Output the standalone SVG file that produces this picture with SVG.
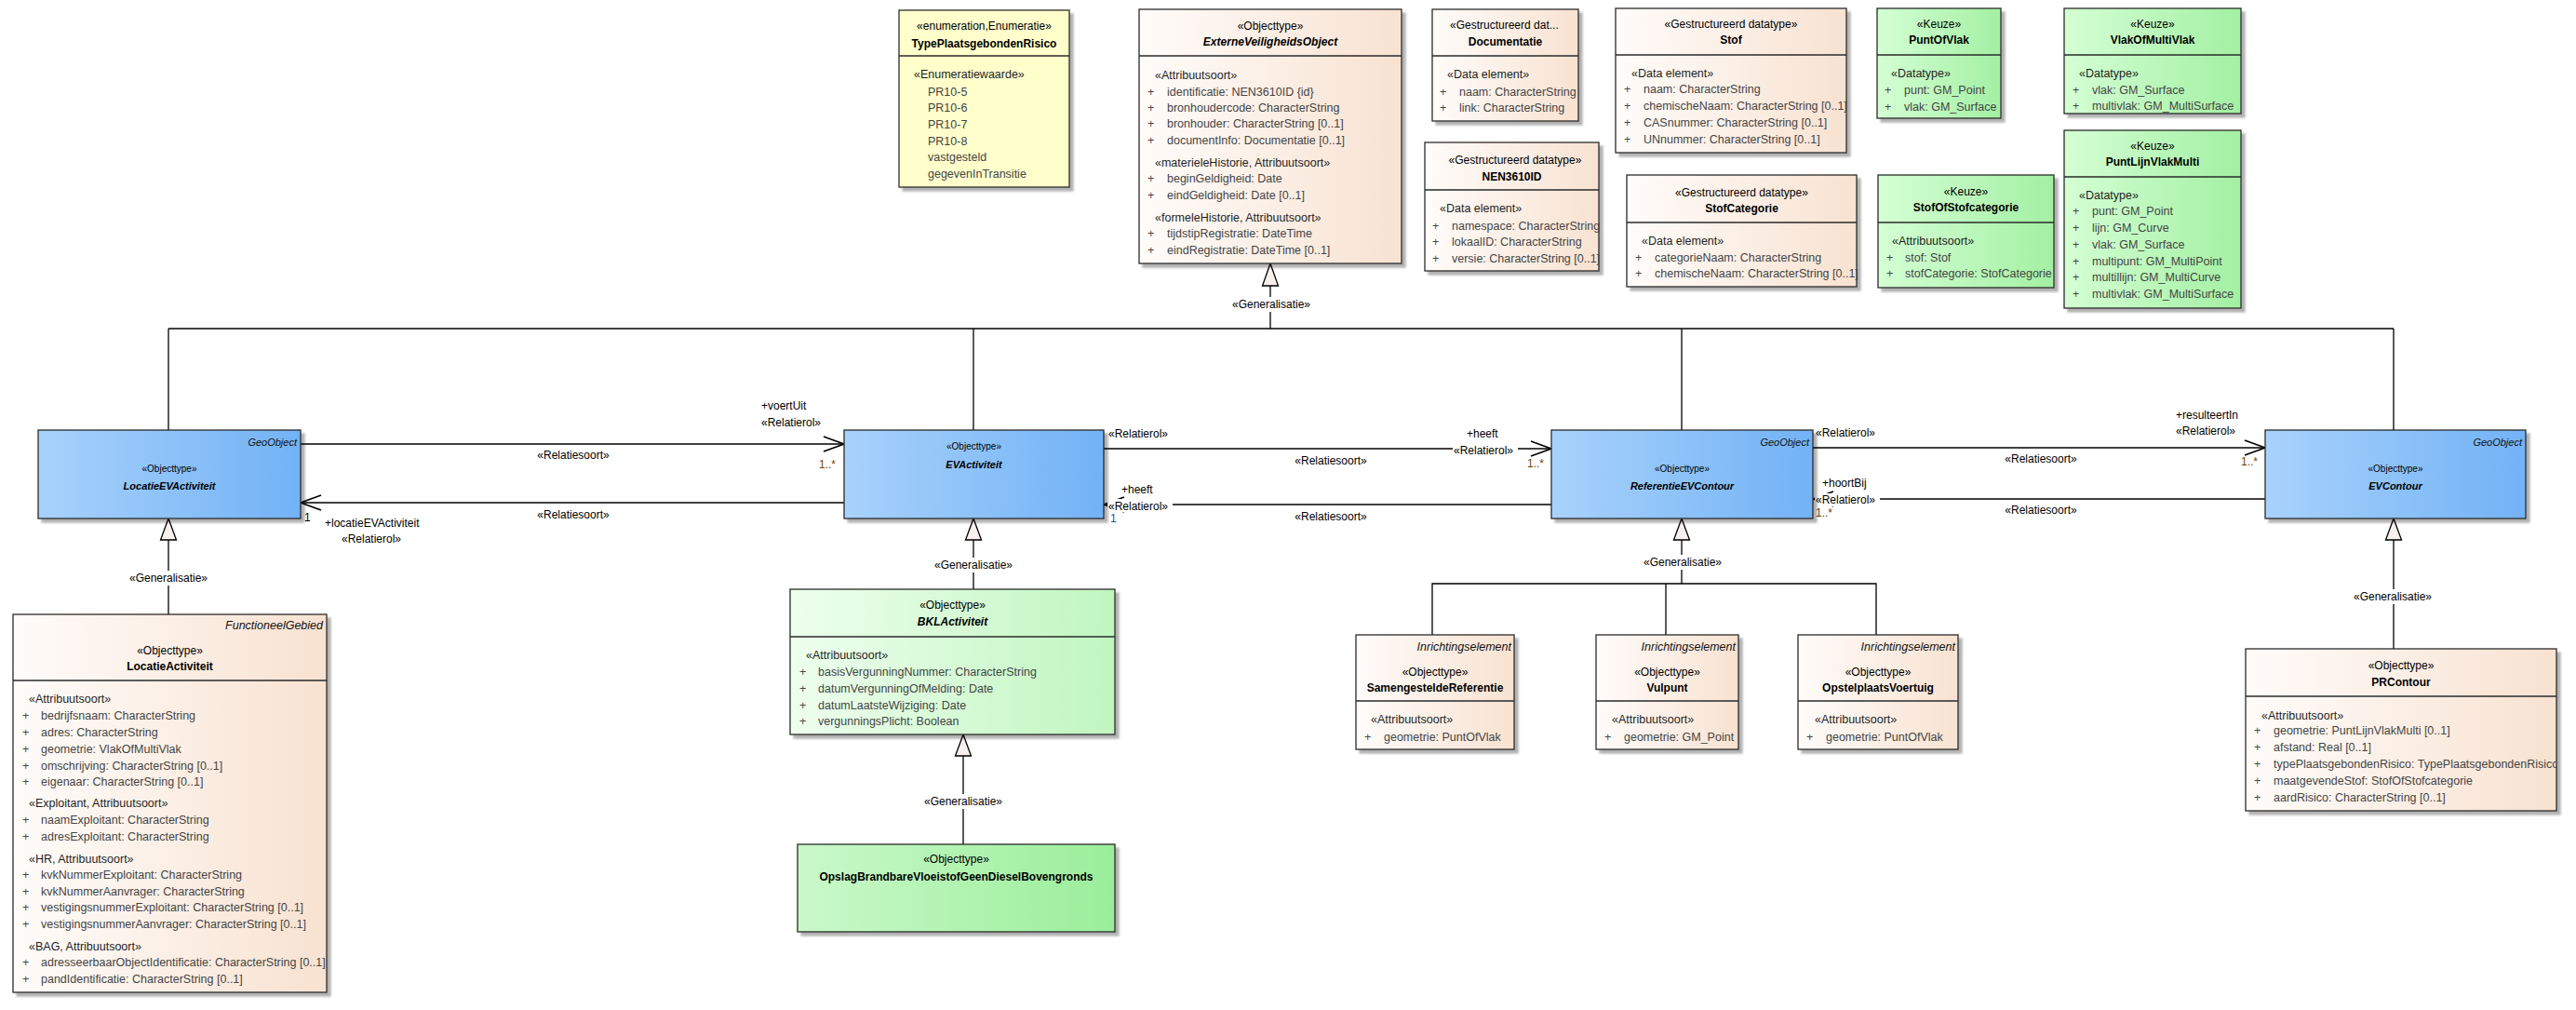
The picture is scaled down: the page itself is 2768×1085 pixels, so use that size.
<svg xmlns="http://www.w3.org/2000/svg" width="2768" height="1085" viewBox="0 0 2768 1085">
<defs>
<linearGradient id="gBeige" x1="0" y1="0" x2="1" y2="0"><stop offset="0" stop-color="#fffcfa"/><stop offset="1" stop-color="#f8e2d1"/></linearGradient>
<linearGradient id="gBlue" x1="0" y1="0" x2="1" y2="0"><stop offset="0" stop-color="#a8d2fb"/><stop offset="1" stop-color="#72b2f6"/></linearGradient>
<linearGradient id="gGreen" x1="0" y1="0" x2="1" y2="0"><stop offset="0" stop-color="#d4ffd4"/><stop offset="1" stop-color="#a3f0a3"/></linearGradient>
<linearGradient id="gGreenL" x1="0" y1="0" x2="1" y2="0"><stop offset="0" stop-color="#eeffee"/><stop offset="1" stop-color="#c0f6c0"/></linearGradient>
<linearGradient id="gGreenD" x1="0" y1="0" x2="1" y2="0"><stop offset="0" stop-color="#caf9ca"/><stop offset="1" stop-color="#9aee9a"/></linearGradient>
<filter id="sh" x="-5%" y="-5%" width="115%" height="115%"><feDropShadow dx="4" dy="4" stdDeviation="1.2" flood-color="#000" flood-opacity="0.3"/></filter>
<marker id="open" viewBox="0 0 24 18" refX="23" refY="9" markerWidth="24" markerHeight="18" markerUnits="userSpaceOnUse" orient="auto"><path d="M1,1 L23,9 L1,17" fill="none" stroke="#000" stroke-width="1.6"/></marker>
<clipPath id="clipPR"><rect x="2413" y="697" width="334" height="174"/></clipPath>
<style>
text{font-family:"Liberation Sans",Arial,sans-serif;}
.box{stroke:#2a2a2a;stroke-width:1.3;filter:url(#sh);}
.div{stroke:#2a2a2a;stroke-width:1.3;}
.st{font-size:12px;fill:#000;text-anchor:middle;}
.nm{font-size:12px;font-weight:bold;fill:#000;text-anchor:middle;}
.nmi{font-size:12px;font-weight:bold;font-style:italic;fill:#000;text-anchor:middle;}
.sec{font-size:12.5px;fill:#1e1e1e;}
.at{font-size:12.5px;fill:#444;}
.par{font-size:12.5px;font-style:italic;fill:#111;text-anchor:end;}
.bst{font-size:10px;fill:#000;text-anchor:middle;}
.bnm{font-size:11px;font-weight:bold;font-style:italic;fill:#000;text-anchor:middle;}
.bpar{font-size:11px;font-style:italic;fill:#111;text-anchor:end;}
.ln{stroke:#000;stroke-width:1.3;fill:none;}
.tri{fill:#f7f0ee;stroke:#000;stroke-width:1.3;}
.cl{font-size:12px;fill:#000;}
.clm{font-size:12px;fill:#000;text-anchor:middle;}
.mul{font-size:12px;fill:#6b4300;}
.mulb{font-size:12px;fill:#1d4f9c;}
.wb{fill:#fff;}
</style>
</defs>
<rect width="2768" height="1085" fill="#fff"/>

<g id="connectors">
  <!-- generalization tree top -->
  <line class="ln" x1="1365" y1="307" x2="1365" y2="353"/>
  <polygon class="tri" points="1365,283 1356.5,307 1373.5,307"/>
  <rect class="wb" x="1322" y="319" width="88" height="16"/>
  <text class="clm" x="1366" y="331">«Generalisatie»</text>
  <line class="ln" x1="181" y1="353" x2="2572" y2="353"/>
  <line class="ln" x1="181" y1="353" x2="181" y2="462"/>
  <line class="ln" x1="1046" y1="353" x2="1046" y2="462"/>
  <line class="ln" x1="1807" y1="353" x2="1807" y2="462"/>
  <line class="ln" x1="2572" y1="353" x2="2572" y2="462"/>

  <!-- LocatieEVActiviteit -> LocatieActiviteit -->
  <line class="ln" x1="181" y1="580" x2="181" y2="660"/>
  <polygon class="tri" points="181,557 172.5,580 189.5,580"/>
  <rect class="wb" x="137" y="613" width="88" height="16"/>
  <text class="clm" x="181" y="625">«Generalisatie»</text>

  <!-- EVActiviteit -> BKLActiviteit -->
  <line class="ln" x1="1046" y1="580" x2="1046" y2="633"/>
  <polygon class="tri" points="1046,557 1037.5,580 1054.5,580"/>
  <rect class="wb" x="1002" y="599" width="88" height="16"/>
  <text class="clm" x="1046" y="611">«Generalisatie»</text>

  <!-- BKLActiviteit -> Opslag -->
  <line class="ln" x1="1035" y1="812" x2="1035" y2="907"/>
  <polygon class="tri" points="1035,789 1026.5,812 1043.5,812"/>
  <rect class="wb" x="991" y="853" width="88" height="16"/>
  <text class="clm" x="1035" y="865">«Generalisatie»</text>

  <!-- ReferentieEVContour -> Inrichtingselementen -->
  <line class="ln" x1="1807" y1="580" x2="1807" y2="627"/>
  <polygon class="tri" points="1807,557 1798.5,580 1815.5,580"/>
  <rect class="wb" x="1764" y="596" width="88" height="16"/>
  <text class="clm" x="1808" y="608">«Generalisatie»</text>
  <polyline class="ln" points="1539,682 1539,627 2016,627 2016,682"/>
  <line class="ln" x1="1790" y1="627" x2="1790" y2="682"/>

  <!-- EVContour -> PRContour -->
  <line class="ln" x1="2572" y1="580" x2="2572" y2="697"/>
  <polygon class="tri" points="2572,557 2563.5,580 2580.5,580"/>
  <rect class="wb" x="2527" y="633" width="88" height="16"/>
  <text class="clm" x="2571" y="645">«Generalisatie»</text>

  <!-- A1 LocatieEVActiviteit -> EVActiviteit -->
  <line class="ln" x1="323" y1="477" x2="907" y2="477" marker-end="url(#open)"/>
  <text class="cl" x="818" y="440">+voertUit</text>
  <text class="cl" x="818" y="458">«Relatierol»</text>
  <text class="mul" x="880" y="503">1..*</text>
  <text class="clm" x="616" y="493">«Relatiesoort»</text>

  <!-- A2 EVActiviteit -> LocatieEVActiviteit -->
  <line class="ln" x1="907" y1="540" x2="323" y2="540" marker-end="url(#open)"/>
  <text class="cl" x="327" y="560">1</text>
  <text class="cl" x="349" y="566">+locatieEVActiviteit</text>
  <text class="cl" x="367" y="583">«Relatierol»</text>
  <text class="clm" x="616" y="557">«Relatiesoort»</text>

  <!-- A3 EVActiviteit -> ReferentieEVContour -->
  <line class="ln" x1="1186" y1="482" x2="1667" y2="482" marker-end="url(#open)"/>
  <text class="cl" x="1191" y="470">«Relatierol»</text>
  <text class="cl" x="1576" y="470">+heeft</text>
  <rect class="wb" x="1561" y="476" width="70" height="14"/>
  <text class="cl" x="1562" y="488">«Relatierol»</text>
  <text class="mul" x="1641" y="502">1..*</text>
  <text class="clm" x="1430" y="499">«Relatiesoort»</text>

  <!-- A4 ReferentieEVContour -> EVActiviteit -->
  <line class="ln" x1="1667" y1="542" x2="1186" y2="542" marker-end="url(#open)"/>
  <text class="cl" x="1205" y="530">+heeft</text>
  <rect class="wb" x="1190" y="536" width="70" height="14"/>
  <text class="cl" x="1191" y="548">«Relatierol»</text>
  <text class="mulb" x="1193" y="561">1</text>
  <text class="clm" x="1430" y="559">«Relatiesoort»</text>

  <!-- A5 ReferentieEVContour -> EVContour -->
  <line class="ln" x1="1948" y1="481" x2="2434" y2="481" marker-end="url(#open)"/>
  <text class="cl" x="1951" y="469">«Relatierol»</text>
  <text class="cl" x="2338" y="450">+resulteertIn</text>
  <text class="cl" x="2338" y="467">«Relatierol»</text>
  <text class="mul" x="2408" y="500">1..*</text>
  <text class="clm" x="2193" y="497">«Relatiesoort»</text>

  <!-- A6 EVContour -> ReferentieEVContour -->
  <line class="ln" x1="2434" y1="536" x2="1948" y2="536" marker-end="url(#open)"/>
  <text class="cl" x="1958" y="523">+hoortBij</text>
  <rect class="wb" x="1950" y="530" width="70" height="14"/>
  <text class="cl" x="1951" y="541">«Relatierol»</text>
  <text class="mul" x="1951" y="555">1..*</text>
  <text class="clm" x="2193" y="552">«Relatiesoort»</text>
</g>

<g id="n-TypePlaatsgebondenRisico">
  <rect class="box" x="966" y="11" width="183" height="190" fill="#ffffcc"/>
  <line class="div" x1="966" y1="60" x2="1149" y2="60"/>
  <text class="st" x="1057.5" y="32">«enumeration,Enumeratie»</text>
  <text class="nm" x="1057.5" y="51">TypePlaatsgebondenRisico</text>
  <text class="sec" x="982" y="84">«Enumeratiewaarde»</text>
  <text class="at" x="997" y="102.5">PR10-5</text>
  <text class="at" x="997" y="120">PR10-6</text>
  <text class="at" x="997" y="137.5">PR10-7</text>
  <text class="at" x="997" y="155.5">PR10-8</text>
  <text class="at" x="997" y="173">vastgesteld</text>
  <text class="at" x="997" y="191">gegevenInTransitie</text>
</g>

<g id="n-ExterneVeiligheidsObject">
  <rect class="box" x="1224" y="10" width="282" height="273" fill="url(#gBeige)"/>
  <line class="div" x1="1224" y1="60" x2="1506" y2="60"/>
  <text class="st" x="1365" y="32">«Objecttype»</text>
  <text class="nmi" x="1365" y="49">ExterneVeiligheidsObject</text>
  <text class="sec" x="1241" y="84.5">«Attribuutsoort»</text>
  <text class="at" x="1233" y="102.8">+</text><text class="at" x="1254" y="102.8">identificatie: NEN3610ID {id}</text>
  <text class="at" x="1233" y="119.5">+</text><text class="at" x="1254" y="119.5">bronhoudercode: CharacterString</text>
  <text class="at" x="1233" y="136.8">+</text><text class="at" x="1254" y="136.8">bronhouder: CharacterString [0..1]</text>
  <text class="at" x="1233" y="154.8">+</text><text class="at" x="1254" y="154.8">documentInfo: Documentatie [0..1]</text>
  <text class="sec" x="1241" y="178.8">«materieleHistorie, Attribuutsoort»</text>
  <text class="at" x="1233" y="196.2">+</text><text class="at" x="1254" y="196.2">beginGeldigheid: Date</text>
  <text class="at" x="1233" y="213.5">+</text><text class="at" x="1254" y="213.5">eindGeldigheid: Date [0..1]</text>
  <text class="sec" x="1241" y="237.8">«formeleHistorie, Attribuutsoort»</text>
  <text class="at" x="1233" y="255.2">+</text><text class="at" x="1254" y="255.2">tijdstipRegistratie: DateTime</text>
  <text class="at" x="1233" y="272.8">+</text><text class="at" x="1254" y="272.8">eindRegistratie: DateTime [0..1]</text>
</g>

<g id="n-Documentatie">
  <rect class="box" x="1539" y="10" width="157" height="120" fill="url(#gBeige)"/>
  <line class="div" x1="1539" y1="60" x2="1696" y2="60"/>
  <text class="st" x="1558" y="31" style="text-anchor:start">«Gestructureerd dat...</text>
  <text class="nm" x="1617.5" y="49">Documentatie</text>
  <text class="sec" x="1555" y="84">«Data element»</text>
  <text class="at" x="1547" y="102.5">+</text><text class="at" x="1568" y="102.5">naam: CharacterString</text>
  <text class="at" x="1547" y="119.5">+</text><text class="at" x="1568" y="119.5">link: CharacterString</text>
</g>

<g id="n-NEN3610ID">
  <rect class="box" x="1531" y="153" width="187" height="138" fill="url(#gBeige)"/>
  <line class="div" x1="1531" y1="204" x2="1718" y2="204"/>
  <text class="st" x="1628" y="175.5">«Gestructureerd datatype»</text>
  <text class="nm" x="1624.5" y="193.5">NEN3610ID</text>
  <text class="sec" x="1547" y="227.5">«Data element»</text>
  <text class="at" x="1539" y="246.5">+</text><text class="at" x="1560" y="246.5">namespace: CharacterString</text>
  <text class="at" x="1539" y="263.5">+</text><text class="at" x="1560" y="263.5">lokaalID: CharacterString</text>
  <text class="at" x="1539" y="281.5">+</text><text class="at" x="1560" y="281.5">versie: CharacterString [0..1]</text>
</g>

<g id="n-Stof">
  <rect class="box" x="1736" y="9" width="248" height="155" fill="url(#gBeige)"/>
  <line class="div" x1="1736" y1="59" x2="1984" y2="59"/>
  <text class="st" x="1860" y="29.5">«Gestructureerd datatype»</text>
  <text class="nm" x="1860" y="46.5">Stof</text>
  <text class="sec" x="1753" y="82.5">«Data element»</text>
  <text class="at" x="1745" y="100">+</text><text class="at" x="1766" y="100">naam: CharacterString</text>
  <text class="at" x="1745" y="118">+</text><text class="at" x="1766" y="118">chemischeNaam: CharacterString [0..1]</text>
  <text class="at" x="1745" y="136">+</text><text class="at" x="1766" y="136">CASnummer: CharacterString [0..1]</text>
  <text class="at" x="1745" y="153.5">+</text><text class="at" x="1766" y="153.5">UNnummer: CharacterString [0..1]</text>
</g>

<g id="n-StofCategorie">
  <rect class="box" x="1748" y="188" width="247" height="120" fill="url(#gBeige)"/>
  <line class="div" x1="1748" y1="239" x2="1995" y2="239"/>
  <text class="st" x="1871.5" y="210.5">«Gestructureerd datatype»</text>
  <text class="nm" x="1871.5" y="227.5">StofCategorie</text>
  <text class="sec" x="1764" y="262.5">«Data element»</text>
  <text class="at" x="1757" y="280.5">+</text><text class="at" x="1778" y="280.5">categorieNaam: CharacterString</text>
  <text class="at" x="1757" y="297.5">+</text><text class="at" x="1778" y="297.5">chemischeNaam: CharacterString [0..1]</text>
</g>

<g id="n-PuntOfVlak">
  <rect class="box" x="2017" y="9" width="133" height="118" fill="url(#gGreen)"/>
  <line class="div" x1="2017" y1="59" x2="2150" y2="59"/>
  <text class="st" x="2083.5" y="29.5">«Keuze»</text>
  <text class="nm" x="2083.5" y="46.5">PuntOfVlak</text>
  <text class="sec" x="2032" y="82.5">«Datatype»</text>
  <text class="at" x="2025" y="100.5">+</text><text class="at" x="2046" y="100.5">punt: GM_Point</text>
  <text class="at" x="2025" y="118.5">+</text><text class="at" x="2046" y="118.5">vlak: GM_Surface</text>
</g>

<g id="n-VlakOfMultiVlak">
  <rect class="box" x="2218" y="9" width="190" height="113" fill="url(#gGreen)"/>
  <line class="div" x1="2218" y1="59" x2="2408" y2="59"/>
  <text class="st" x="2313" y="29.5">«Keuze»</text>
  <text class="nm" x="2313" y="46.5">VlakOfMultiVlak</text>
  <text class="sec" x="2234" y="82.5">«Datatype»</text>
  <text class="at" x="2227" y="100.5">+</text><text class="at" x="2248" y="100.5">vlak: GM_Surface</text>
  <text class="at" x="2227" y="118">+</text><text class="at" x="2248" y="118">multivlak: GM_MultiSurface</text>
</g>

<g id="n-StofOfStofcategorie">
  <rect class="box" x="2018" y="188" width="189" height="121" fill="url(#gGreen)"/>
  <line class="div" x1="2018" y1="239" x2="2207" y2="239"/>
  <text class="st" x="2112.5" y="209.5">«Keuze»</text>
  <text class="nm" x="2112.5" y="226.5">StofOfStofcategorie</text>
  <text class="sec" x="2033" y="262.5">«Attribuutsoort»</text>
  <text class="at" x="2027" y="280.5">+</text><text class="at" x="2047" y="280.5">stof: Stof</text>
  <text class="at" x="2027" y="297.5">+</text><text class="at" x="2047" y="297.5">stofCategorie: StofCategorie</text>
</g>

<g id="n-PuntLijnVlakMulti">
  <rect class="box" x="2218" y="140" width="190" height="191" fill="url(#gGreen)"/>
  <line class="div" x1="2218" y1="190" x2="2408" y2="190"/>
  <text class="st" x="2313" y="160.5">«Keuze»</text>
  <text class="nm" x="2313" y="177.5">PuntLijnVlakMulti</text>
  <text class="sec" x="2234" y="213.5">«Datatype»</text>
  <text class="at" x="2227" y="231">+</text><text class="at" x="2248" y="231">punt: GM_Point</text>
  <text class="at" x="2227" y="249">+</text><text class="at" x="2248" y="249">lijn: GM_Curve</text>
  <text class="at" x="2227" y="267">+</text><text class="at" x="2248" y="267">vlak: GM_Surface</text>
  <text class="at" x="2227" y="285">+</text><text class="at" x="2248" y="285">multipunt: GM_MultiPoint</text>
  <text class="at" x="2227" y="302">+</text><text class="at" x="2248" y="302">multillijn: GM_MultiCurve</text>
  <text class="at" x="2227" y="320">+</text><text class="at" x="2248" y="320">multivlak: GM_MultiSurface</text>
</g>

<g id="n-LocatieEVActiviteit">
  <rect class="box" x="41" y="462" width="282" height="95" fill="url(#gBlue)"/>
  <text class="bpar" x="319" y="479">GeoObject</text>
  <text class="bst" x="182" y="507">«Objecttype»</text>
  <text class="bnm" x="182" y="526">LocatieEVActiviteit</text>
</g>

<g id="n-EVActiviteit">
  <rect class="box" x="907" y="462" width="279" height="95" fill="url(#gBlue)"/>
  <text class="bst" x="1046.5" y="483">«Objecttype»</text>
  <text class="bnm" x="1046.5" y="503">EVActiviteit</text>
</g>

<g id="n-ReferentieEVContour">
  <rect class="box" x="1667" y="462" width="281" height="95" fill="url(#gBlue)"/>
  <text class="bpar" x="1944" y="479">GeoObject</text>
  <text class="bst" x="1807.5" y="507">«Objecttype»</text>
  <text class="bnm" x="1807.5" y="526">ReferentieEVContour</text>
</g>

<g id="n-EVContour">
  <rect class="box" x="2434" y="462" width="280" height="95" fill="url(#gBlue)"/>
  <text class="bpar" x="2710" y="479">GeoObject</text>
  <text class="bst" x="2574" y="507">«Objecttype»</text>
  <text class="bnm" x="2574" y="526">EVContour</text>
</g>

<g id="n-LocatieActiviteit">
  <rect class="box" x="14" y="660" width="337" height="406" fill="url(#gBeige)"/>
  <line class="div" x1="14" y1="731" x2="351" y2="731"/>
  <text class="par" x="347" y="676">FunctioneelGebied</text>
  <text class="st" x="182.5" y="702.5">«Objecttype»</text>
  <text class="nm" x="182.5" y="719.5">LocatieActiviteit</text>
  <text class="sec" x="31" y="754.5">«Attribuutsoort»</text>
  <text class="at" x="24" y="772.5">+</text><text class="at" x="44" y="772.5">bedrijfsnaam: CharacterString</text>
  <text class="at" x="24" y="790.5">+</text><text class="at" x="44" y="790.5">adres: CharacterString</text>
  <text class="at" x="24" y="808.5">+</text><text class="at" x="44" y="808.5">geometrie: VlakOfMultiVlak</text>
  <text class="at" x="24" y="826.5">+</text><text class="at" x="44" y="826.5">omschrijving: CharacterString [0..1]</text>
  <text class="at" x="24" y="843.5">+</text><text class="at" x="44" y="843.5">eigenaar: CharacterString [0..1]</text>
  <text class="sec" x="31" y="866.5">«Exploitant, Attribuutsoort»</text>
  <text class="at" x="24" y="884.5">+</text><text class="at" x="44" y="884.5">naamExploitant: CharacterString</text>
  <text class="at" x="24" y="902.5">+</text><text class="at" x="44" y="902.5">adresExploitant: CharacterString</text>
  <text class="sec" x="31" y="926.5">«HR, Attribuutsoort»</text>
  <text class="at" x="24" y="943.5">+</text><text class="at" x="44" y="943.5">kvkNummerExploitant: CharacterString</text>
  <text class="at" x="24" y="961.5">+</text><text class="at" x="44" y="961.5">kvkNummerAanvrager: CharacterString</text>
  <text class="at" x="24" y="978.5">+</text><text class="at" x="44" y="978.5">vestigingsnummerExploitant: CharacterString [0..1]</text>
  <text class="at" x="24" y="996.5">+</text><text class="at" x="44" y="996.5">vestigingsnummerAanvrager: CharacterString [0..1]</text>
  <text class="sec" x="31" y="1020.5">«BAG, Attribuutsoort»</text>
  <text class="at" x="24" y="1037.5">+</text><text class="at" x="44" y="1037.5">adresseerbaarObjectIdentificatie: CharacterString [0..1]</text>
  <text class="at" x="24" y="1055.5">+</text><text class="at" x="44" y="1055.5">pandIdentificatie: CharacterString [0..1]</text>
</g>

<g id="n-BKLActiviteit">
  <rect class="box" x="849" y="633" width="349" height="156" fill="url(#gGreenL)"/>
  <line class="div" x1="849" y1="684" x2="1198" y2="684"/>
  <text class="st" x="1023.5" y="653.5">«Objecttype»</text>
  <text class="nmi" x="1023.5" y="671.5">BKLActiviteit</text>
  <text class="sec" x="866" y="707.5">«Attribuutsoort»</text>
  <text class="at" x="859" y="725.5">+</text><text class="at" x="879" y="725.5">basisVergunningNummer: CharacterString</text>
  <text class="at" x="859" y="743.5">+</text><text class="at" x="879" y="743.5">datumVergunningOfMelding: Date</text>
  <text class="at" x="859" y="761.5">+</text><text class="at" x="879" y="761.5">datumLaatsteWijziging: Date</text>
  <text class="at" x="859" y="778.5">+</text><text class="at" x="879" y="778.5">vergunningsPlicht: Boolean</text>
</g>

<g id="n-OpslagBrandbareVloeistofGeenDieselBovengronds">
  <rect class="box" x="857" y="907" width="341" height="94" fill="url(#gGreenD)"/>
  <text class="st" x="1027.5" y="926.5">«Objecttype»</text>
  <text class="nm" x="1027.5" y="945.5">OpslagBrandbareVloeistofGeenDieselBovengronds</text>
</g>

<g id="n-SamengesteldeReferentie">
  <rect class="box" x="1457" y="682" width="170" height="123" fill="url(#gBeige)"/>
  <line class="div" x1="1457" y1="753" x2="1627" y2="753"/>
  <text class="par" x="1624" y="698.5">Inrichtingselement</text>
  <text class="st" x="1542" y="725.5">«Objecttype»</text>
  <text class="nm" x="1542" y="742.5">SamengesteldeReferentie</text>
  <text class="sec" x="1473" y="776.5">«Attribuutsoort»</text>
  <text class="at" x="1466" y="795.5">+</text><text class="at" x="1487" y="795.5">geometrie: PuntOfVlak</text>
</g>

<g id="n-Vulpunt">
  <rect class="box" x="1715" y="682" width="153" height="123" fill="url(#gBeige)"/>
  <line class="div" x1="1715" y1="753" x2="1868" y2="753"/>
  <text class="par" x="1865" y="698.5">Inrichtingselement</text>
  <text class="st" x="1791.5" y="725.5">«Objecttype»</text>
  <text class="nm" x="1791.5" y="742.5">Vulpunt</text>
  <text class="sec" x="1732" y="776.5">«Attribuutsoort»</text>
  <text class="at" x="1724" y="795.5">+</text><text class="at" x="1745" y="795.5">geometrie: GM_Point</text>
</g>

<g id="n-OpstelplaatsVoertuig">
  <rect class="box" x="1932" y="682" width="172" height="123" fill="url(#gBeige)"/>
  <line class="div" x1="1932" y1="753" x2="2104" y2="753"/>
  <text class="par" x="2101" y="698.5">Inrichtingselement</text>
  <text class="st" x="2018" y="725.5">«Objecttype»</text>
  <text class="nm" x="2018" y="742.5">OpstelplaatsVoertuig</text>
  <text class="sec" x="1950" y="776.5">«Attribuutsoort»</text>
  <text class="at" x="1941" y="795.5">+</text><text class="at" x="1962" y="795.5">geometrie: PuntOfVlak</text>
</g>

<g id="n-PRContour">
  <rect class="box" x="2413" y="697" width="334" height="174" fill="url(#gBeige)"/>
  <line class="div" x1="2413" y1="748" x2="2747" y2="748"/>
  <text class="st" x="2580" y="718.5">«Objecttype»</text>
  <text class="nm" x="2580" y="736.5">PRContour</text>
  <g clip-path="url(#clipPR)">
  <text class="sec" x="2430" y="772.5">«Attribuutsoort»</text>
  <text class="at" x="2422" y="788.5">+</text><text class="at" x="2443" y="788.5">geometrie: PuntLijnVlakMulti [0..1]</text>
  <text class="at" x="2422" y="806.5">+</text><text class="at" x="2443" y="806.5">afstand: Real [0..1]</text>
  <text class="at" x="2422" y="824.5">+</text><text class="at" x="2443" y="824.5">typePlaatsgebondenRisico: TypePlaatsgebondenRisico</text>
  <text class="at" x="2422" y="842.5">+</text><text class="at" x="2443" y="842.5">maatgevendeStof: StofOfStofcategorie</text>
  <text class="at" x="2422" y="860.5">+</text><text class="at" x="2443" y="860.5">aardRisico: CharacterString [0..1]</text>
  </g>
</g>
</svg>
